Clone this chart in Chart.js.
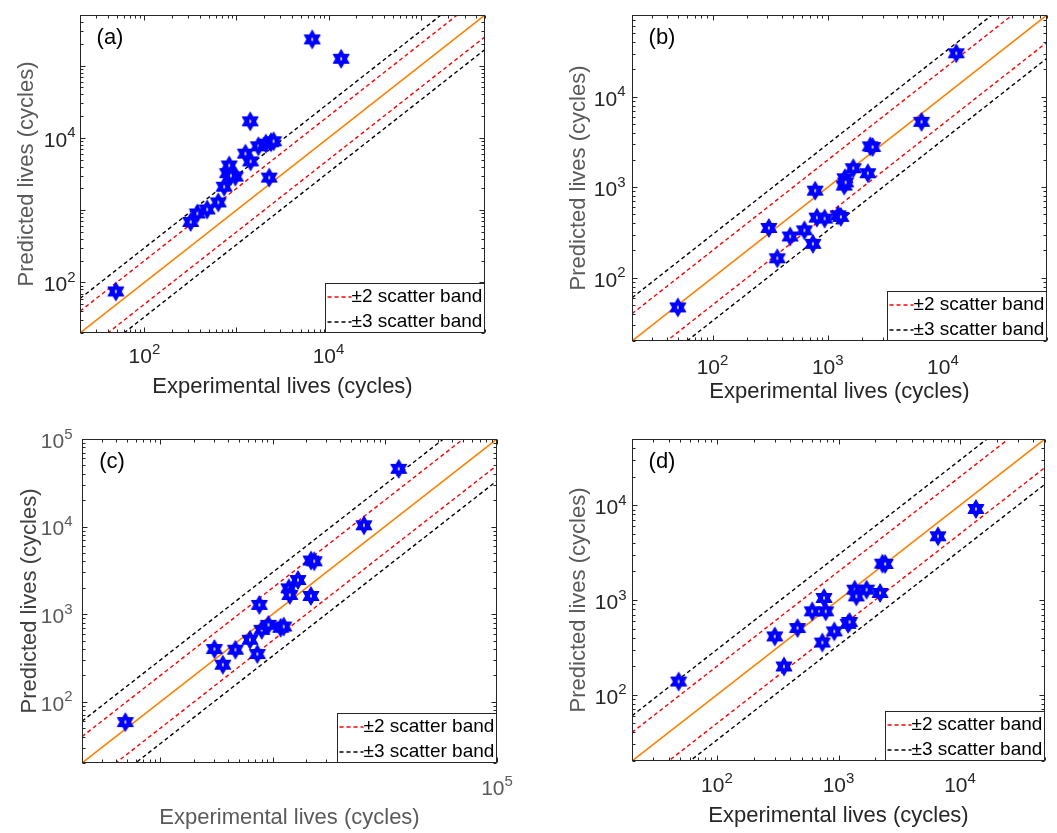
<!DOCTYPE html>
<html>
<head>
<meta charset="utf-8">
<script src="https://cdn.jsdelivr.net/npm/chart.js@4.4.1/dist/chart.umd.min.js"></script>
<style>
  html, body { margin: 0; padding: 0; background: #fff; }
  body { width: 1057px; height: 833px; position: relative; overflow: hidden; }
  .panel { position: absolute; }
</style>
</head>
<body>
<div class="panel" style="left:0;top:0;width:528px;height:415px"><canvas id="chartA"></canvas></div>
<div class="panel" style="left:528px;top:0;width:529px;height:415px"><canvas id="chartB"></canvas></div>
<div class="panel" style="left:0;top:415px;width:528px;height:418px"><canvas id="chartC"></canvas></div>
<div class="panel" style="left:528px;top:415px;width:529px;height:418px"><canvas id="chartD"></canvas></div>
<script>
// ---- data (experimental vs predicted lives, cycles) ----
const expA  = [49, 318, 376, 481, 635, 735, 800, 834, 972, 870, 1250, 1425, 1410, 1730, 2085, 2370, 2530, 2270, 6650, 13700];
const predA = [75, 687, 900, 1023, 1280, 2110, 3250, 4150, 2910, 3000, 6040, 4720, 16900, 7640, 8320, 8700, 8970, 2820, 230000, 124000];

const expB  = [50, 308, 365, 472, 627, 743, 778, 805, 940, 1233, 1300, 1390, 1410, 1430, 1667, 2230, 2340, 2450, 6520, 13060];
const predB = [47, 355, 164, 286, 334, 237, 916, 462, 450, 490, 470, 1042, 1256, 1130, 1622, 1428, 2830, 2780, 5280, 30200];

const expC  = [48.7, 303, 360, 466, 628, 731, 762, 800, 919, 1180, 1256, 1394, 1422, 1683, 2193, 2200, 2350, 6520, 13300];
const predC = [58.6, 400, 265, 393, 510, 351, 1276, 663, 755, 700, 723, 1973, 1656, 2455, 1614, 4100, 4020, 10350, 45600];

const expD  = [48.4, 299, 356, 460, 608, 736, 760, 785, 923, 1200, 1233, 1359, 1403, 1702, 2200, 2300, 2420, 6580, 13500];
const predD = [138, 413, 199, 506, 759, 356, 1050, 759, 466, 560, 586, 1285, 1092, 1285, 1186, 2420, 2400, 4700, 9140];

// axis limits (same for x and y in each panel)
const limA = [20, 5e5];
const limB = [20, 8e4];
const limC = [20, 1e5];
const limD = [20, 5e4];

// labelled ticks
const xLabA = [1e2, 1e4];
const yLabA = [1e2, 1e4];
const xLabB = [1e2, 1e3, 1e4];
const yLabB = [1e2, 1e3, 1e4];
const xLabC = [1e5];
const yLabC = [1e2, 1e3, 1e4, 1e5];
const xLabD = [1e2, 1e3, 1e4];
const yLabD = [1e2, 1e3, 1e4];

// scatter bands
const bandFactors = [2, 3];
const bandLabels = ['±2 scatter band', '±3 scatter band'];

const FONT = "'Liberation Sans', Arial, Helvetica, sans-serif";
const DARK = '#262626';
const GRAY = '#5a5a5a';

// hexagram marker like matlab 'h'
function hexagram(r) {
  const c = document.createElement('canvas');
  const s = Math.ceil(r * 2 + 4);
  c.width = s; c.height = s;
  const g = c.getContext('2d');
  const cx = s / 2, cy = s / 2;
  g.fillStyle = '#0000ff';
  g.strokeStyle = '#0000ff';
  g.lineWidth = 1.2;
  g.lineJoin = 'round';
  [-Math.PI / 2, Math.PI / 2].forEach(rot => {
    g.beginPath();
    for (let i = 0; i < 3; i++) {
      const a = rot + i * 2 * Math.PI / 3;
      const px = cx + r * Math.cos(a), py = cy + r * Math.sin(a);
      if (i === 0) g.moveTo(px, py); else g.lineTo(px, py);
    }
    g.closePath();
    g.fill();
    g.stroke();
  });
  g.fillStyle = '#fff';
  g.fillRect(cx - 0.75, cy - 1.5, 1.5, 3);
  return c;
}
const starImg = hexagram(9);

function diagonal(lim, k) {
  return [{x: lim[0], y: lim[0] * k}, {x: lim[1], y: lim[1] * k}];
}

function buildDatasets(exp, pred, lim) {
  const ds = [{
    label: 'data',
    data: exp.map((v, i) => ({x: v, y: pred[i]})),
    pointStyle: starImg,
    pointRadius: 9,
    showLine: false,
    order: 0
  }, {
    data: diagonal(lim, 1),
    showLine: true,
    borderColor: '#ff8000',
    borderWidth: 1.6,
    pointRadius: 0,
    order: 3
  }];
  const bandColors = ['#ff0000', '#000000'];
  bandFactors.forEach((k, i) => {
    [k, 1 / k].forEach((f, j) => ds.push({
      label: bandLabels[i],
      legend: j === 0,
      data: diagonal(lim, f),
      showLine: true,
      borderColor: bandColors[i],
      borderWidth: 1.4,
      borderDash: [4, 3],
      pointRadius: 0,
      order: 2
    }));
  });
  return ds;
}

function logTicks(min, max) {
  const out = [];
  for (let p = Math.floor(Math.log10(min)); p <= Math.ceil(Math.log10(max)); p++) {
    for (let k = 1; k < 10; k++) {
      const v = k * Math.pow(10, p);
      if (v >= min * 0.999 && v <= max * 1.001) out.push({v: v, len: k === 1 ? 5 : 3});
    }
  }
  return out;
}

function powLabel(ctx, v, x, y, align) {
  const e = String(Math.round(Math.log10(v)));
  ctx.textBaseline = 'middle';
  ctx.textAlign = 'left';
  ctx.font = `21px ${FONT}`;
  const w1 = ctx.measureText('10').width;
  ctx.font = `15px ${FONT}`;
  const w2 = ctx.measureText(e).width;
  const x0 = align === 'center' ? x - (w1 + w2) / 2 : x - w1 - w2;
  ctx.font = `21px ${FONT}`;
  ctx.fillText('10', x0, y);
  ctx.font = `15px ${FONT}`;
  ctx.fillText(e, x0 + w1, y - 7.5);
}

// box, inward ticks, tick labels, panel letter and legend
const frame = {
  id: 'frame',
  afterDraw(chart, args, o) {
    const {ctx, chartArea: a} = chart;
    const sx = chart.scales.x, sy = chart.scales.y;
    const L = Math.round(a.left) + 0.5, R = Math.round(a.right) - 0.5;
    const T = Math.round(a.top) + 0.5, B = Math.round(a.bottom) - 0.5;
    ctx.save();
    ctx.strokeStyle = DARK;
    ctx.lineWidth = 1;
    ctx.strokeRect(L, T, R - L, B - T);
    ctx.beginPath();
    logTicks(sx.min, sx.max).forEach(t => {
      const p = Math.round(sx.getPixelForValue(t.v)) + 0.5;
      ctx.moveTo(p, B); ctx.lineTo(p, B - t.len);
      ctx.moveTo(p, T); ctx.lineTo(p, T + t.len);
    });
    logTicks(sy.min, sy.max).forEach(t => {
      const p = Math.round(sy.getPixelForValue(t.v)) + 0.5;
      ctx.moveTo(L, p); ctx.lineTo(L + t.len, p);
      ctx.moveTo(R, p); ctx.lineTo(R - t.len, p);
    });
    ctx.stroke();

    ctx.fillStyle = o.tickColor;
    o.xLabels.forEach(v => powLabel(ctx, v, sx.getPixelForValue(v), B + o.xOff, 'center'));
    o.yLabels.forEach(v => powLabel(ctx, v, L - o.yGap, sy.getPixelForValue(v) + 3, 'right'));

    ctx.fillStyle = '#000';
    ctx.font = `22px ${FONT}`;
    ctx.textAlign = 'center';
    ctx.textBaseline = 'middle';
    ctx.fillText(o.letter, a.left + 30, a.top + 23);

    // legend in the lower right corner
    const items = chart.data.datasets.filter(d => d.legend);
    ctx.font = `19px ${FONT}`;
    const tw = Math.max(...items.map(d => ctx.measureText(d.label).width));
    const w = 29 + tw, h = 50;
    const bx = Math.round(R - w) + 0.5, by = Math.round(B - h) + 0.5;
    ctx.fillStyle = '#fff';
    ctx.fillRect(bx, by, R - bx, B - by);
    ctx.strokeStyle = DARK;
    ctx.lineWidth = 1;
    ctx.strokeRect(bx, by, R - bx, B - by);
    items.forEach((d, i) => {
      const yy = by + 13.5 + i * 25;
      ctx.strokeStyle = d.borderColor;
      ctx.lineWidth = d.borderWidth;
      ctx.setLineDash(d.borderDash);
      ctx.beginPath();
      ctx.moveTo(bx + 2, yy);
      ctx.lineTo(bx + 26, yy);
      ctx.stroke();
      ctx.setLineDash([]);
      ctx.fillStyle = '#000';
      ctx.textAlign = 'left';
      ctx.textBaseline = 'middle';
      ctx.fillText(d.label, bx + 26, yy);
    });
    ctx.restore();
  }
};

const panels = [
  {id: 'chartA', exp: expA, pred: predA, lim: limA, xLab: xLabA, yLab: yLabA, letter: '(a)',
   l: 80, t: 15, r: 43, b: 333, h: 415, yTitlePad: 16, xTitlePad: 17, xOff: 24.5, yGap: 5,
   yTitleColor: GRAY, xTitleColor: DARK, tickColor: DARK},
  {id: 'chartB', exp: expB, pred: predB, lim: limB, xLab: xLabB, yLab: yLabB, letter: '(b)',
   l: 104, t: 15, r: 10, b: 341, h: 415, yTitlePad: 39.5, xTitlePad: 12, xOff: 27.5, yGap: 7,
   yTitleColor: GRAY, xTitleColor: DARK, tickColor: DARK},
  {id: 'chartC', exp: expC, pred: predC, lim: limC, xLab: xLabC, yLab: yLabC, letter: '(c)',
   l: 82, t: 24, r: 31, b: 348, h: 418, yTitlePad: 18.5, xTitlePad: 4, xOff: 27, yGap: 10,
   yTitleColor: '#404040', xTitleColor: GRAY, tickColor: GRAY},
  {id: 'chartD', exp: expD, pred: predD, lim: limD, xLab: xLabD, yLab: yLabD, letter: '(d)',
   l: 104, t: 24, r: 12, b: 346, h: 418, yTitlePad: 39.5, xTitlePad: 6, xOff: 26, yGap: 6,
   yTitleColor: GRAY, xTitleColor: DARK, tickColor: DARK}
];

panels.forEach(p => {
  new Chart(document.getElementById(p.id), {
    type: 'scatter',
    data: { datasets: buildDatasets(p.exp, p.pred, p.lim) },
    options: {
      responsive: true,
      maintainAspectRatio: false,
      animation: false,
      events: [],
      layout: { padding: { left: 0, top: p.t, right: p.r, bottom: 0 } },
      plugins: {
        legend: { display: false },
        tooltip: { enabled: false },
        frame: {
          xLabels: p.xLab, yLabels: p.yLab, letter: p.letter,
          xOff: p.xOff, yGap: p.yGap, tickColor: p.tickColor
        }
      },
      scales: {
        x: {
          type: 'logarithmic', min: p.lim[0], max: p.lim[1],
          ticks: { display: false }, grid: { display: false }, border: { display: false },
          title: {
            display: true, text: 'Experimental lives (cycles)', color: p.xTitleColor,
            font: { family: FONT, size: 22, lineHeight: 1 },
            padding: { top: 0, bottom: p.xTitlePad }
          },
          afterFit: s => { s.height = p.h - p.b; }
        },
        y: {
          type: 'logarithmic', min: p.lim[0], max: p.lim[1],
          ticks: { display: false }, grid: { display: false }, border: { display: false },
          title: {
            display: true, text: 'Predicted lives (cycles)', color: p.yTitleColor,
            font: { family: FONT, size: 22, lineHeight: 1 },
            padding: { top: p.yTitlePad, bottom: 0 }
          },
          afterFit: s => { s.width = p.l; }
        }
      }
    },
    plugins: [frame]
  });
});
</script>
</body>
</html>
